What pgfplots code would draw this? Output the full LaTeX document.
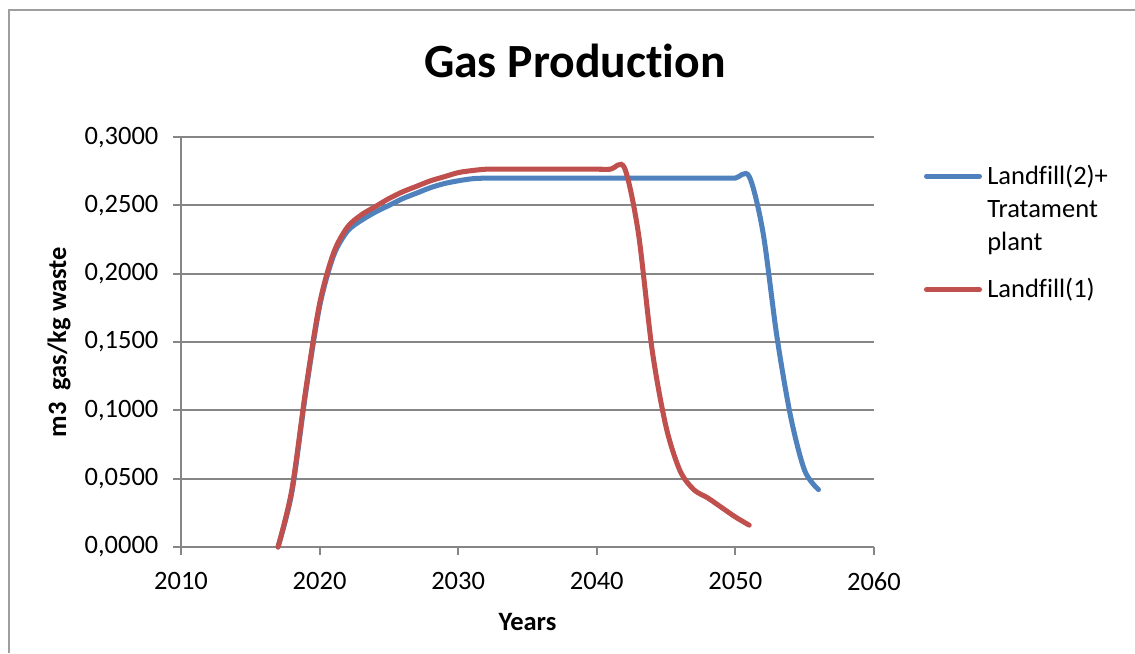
\documentclass[border=0pt]{standalone}
\usepackage{fontspec}
\setmainfont{Carlito}[Ligatures=NoCommon]
\usepackage{pgfplots}
\pgfplotsset{compat=1.18}
\definecolor{xlblue}{HTML}{4F81BD}
\definecolor{xlred}{HTML}{C0504D}
\definecolor{xlgrid}{HTML}{868686}
\begin{document}
\begin{tikzpicture}[x=0.3774pt,y=0.3774pt]
\useasboundingbox (0,0) rectangle (1135,653);
\draw[xlgrid!80, line width=1.1pt] (9,0) -- (9,643) -- (1135,643);
\begin{axis}[
    at={(68.31pt,40.0pt)}, anchor=south west,
    scale only axis,
    width=261.5pt, height=154.7pt,
    xmin=2010, xmax=2060,
    ymin=0, ymax=0.3,
    xtick={2010,2020,2030,2040,2050,2060},
    ytick={0,0.05,0.1,0.15,0.2,0.25,0.3},
    axis x line*=bottom, axis y line*=left,
    axis line style={xlgrid, line width=0.8pt},
    tick align=outside,
    major tick length=3pt,
    tick style={xlgrid, line width=0.8pt},
    ymajorgrids=true,
    grid style={xlgrid, line width=0.8pt},
    /pgf/number format/assume math mode=true,
    x tick label style={/pgf/number format/1000 sep={}, yshift=-3pt},
    y tick label style={/pgf/number format/.cd, fixed, fixed zerofill, precision=4, use comma, /tikz/.cd, xshift=-2pt},
    ticklabel style={font=\fontsize{10}{12}\selectfont},
    title={Gas Production},
    title style={font=\bfseries\fontsize{18}{20}\selectfont, at={(axis description cs:0.5685,1.146)}, anchor=center},
    xlabel={Years},
    ylabel={m3\ \ gas/kg waste},
    xlabel style={font=\bfseries\fontsize{10}{12}\selectfont, at={(axis description cs:0.5,-0.183)}, anchor=center},
    ylabel style={font=\bfseries\fontsize{10}{12}\selectfont, at={(axis description cs:-0.176,0.5)}, anchor=center, rotate=0},
    legend cell align=left,
    legend style={draw=none, fill=none, at={(axis description cs:1.06,0.96)}, anchor=north west,
        font=\fontsize{10}{12.5}\selectfont, nodes={align=left}, row sep=5pt,
        legend image code/.code={\draw[#1] (0pt,0pt) -- (20pt,0pt);}},
    clip=false,
]
\addplot[xlblue, line width=1.9pt, smooth, line cap=round,
    legend image code/.code={\draw[xlblue, line width=1.9pt, line cap=round] (0pt,12.5pt) -- (20pt,12.5pt);}] coordinates {
    (2017,0) (2018,0.040) (2019,0.113) (2020,0.176) (2021,0.213) (2022,0.231)
    (2023,0.239) (2024,0.245) (2025,0.250) (2026,0.255) (2027,0.259) (2028,0.263)
    (2029,0.266) (2030,0.268) (2031,0.2695) (2032,0.270) (2033,0.270) (2034,0.270)
    (2035,0.270) (2036,0.270) (2037,0.270) (2038,0.270) (2039,0.270) (2040,0.270)
    (2041,0.270) (2042,0.270) (2043,0.270) (2044,0.270) (2045,0.270) (2046,0.270)
    (2047,0.270) (2048,0.270) (2049,0.270) (2050,0.270) (2051,0.2712) (2052,0.230)
    (2053,0.154) (2054,0.095) (2055,0.056) (2056,0.042)
};
\addlegendentry{Landfill(2)+\\Tratament\\plant}
\addplot[xlred, line width=1.9pt, smooth, line cap=round] coordinates {
    (2017,0) (2018,0.042) (2019,0.115) (2020,0.178) (2021,0.215) (2022,0.234)
    (2023,0.243) (2024,0.249) (2025,0.255) (2026,0.260) (2027,0.264) (2028,0.268)
    (2029,0.271) (2030,0.274) (2031,0.2755) (2032,0.2765) (2033,0.2765) (2034,0.2765)
    (2035,0.2765) (2036,0.2765) (2037,0.2765) (2038,0.2765) (2039,0.2765) (2040,0.2765)
    (2041,0.2765) (2042,0.2775) (2043,0.230) (2044,0.144) (2045,0.088) (2046,0.056)
    (2047,0.042) (2048,0.036) (2049,0.029) (2050,0.022) (2051,0.016)
};
\addlegendentry{Landfill(1)}
\end{axis}
\end{tikzpicture}
\end{document}
